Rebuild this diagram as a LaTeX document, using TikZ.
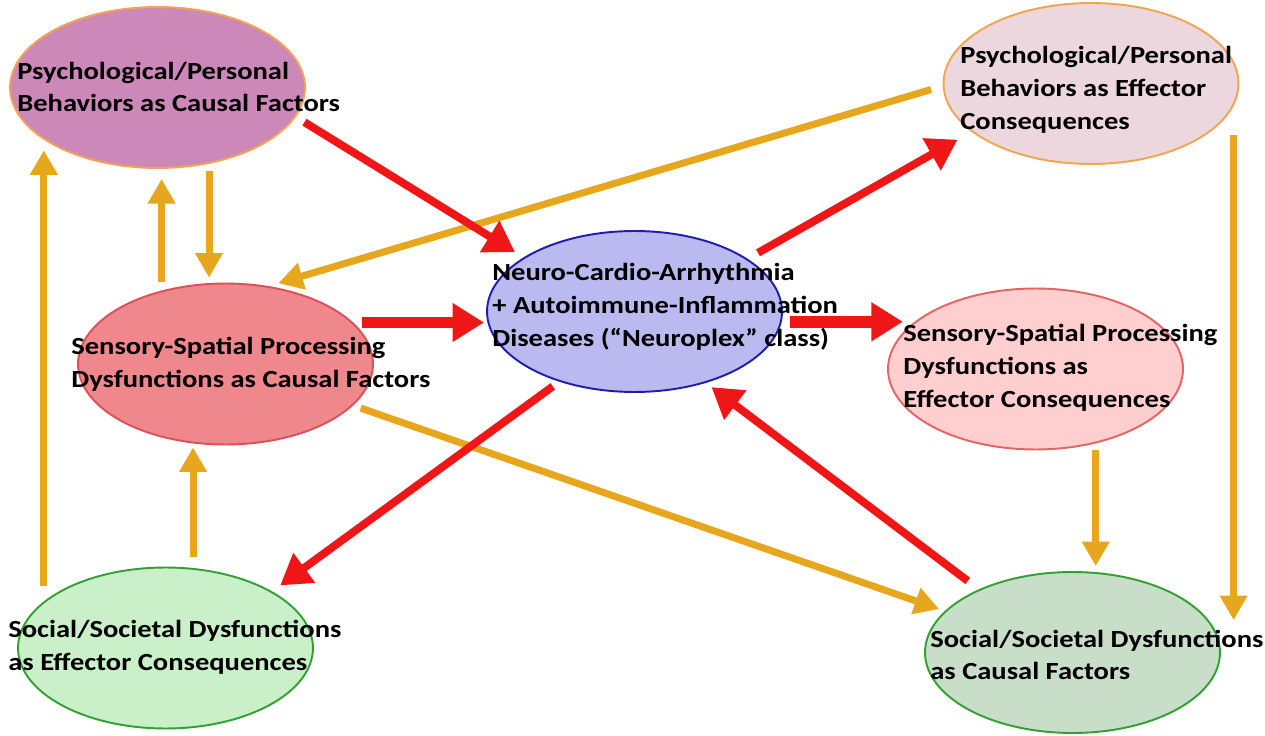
\documentclass[tikz,border=0pt]{standalone}
\usepackage{fontspec}
\newfontfamily\diagfont{Carlito}[FakeStretch=1.16]
\usetikzlibrary{arrows.meta,shapes.geometric}
\definecolor{arrRed}{RGB}{238,22,22}
\definecolor{arrOrange}{RGB}{230,166,30}
\definecolor{orangeLine}{RGB}{240,165,80}
\definecolor{psyCfill}{RGB}{205,136,186}
\definecolor{psyEfill}{RGB}{237,215,222}
\definecolor{neuroFill}{RGB}{186,186,240}
\definecolor{neuroLine}{RGB}{30,30,170}
\definecolor{sensCfill}{RGB}{238,136,140}
\definecolor{sensCline}{RGB}{222,80,88}
\definecolor{sensEfill}{RGB}{255,206,206}
\definecolor{sensEline}{RGB}{226,100,100}
\definecolor{socEfill}{RGB}{202,240,202}
\definecolor{socCfill}{RGB}{200,222,200}
\definecolor{socLine}{RGB}{50,160,50}

\begin{document}
\begin{tikzpicture}[x=0.02cm,y=-0.02cm,
  blob/.style={ellipse,line width=1.1pt,minimum width=5.9cm,minimum height=3.22cm,inner sep=0pt},
  txt/.style={anchor=west,align=left,inner sep=0pt,font=\diagfont\fontsize{14pt}{18.7pt}\selectfont\bfseries},
  redarr/.style={draw=arrRed,line width=4.5pt,-{Triangle[length=17pt,width=20pt]}},
  bigarr/.style={draw=arrRed,line width=6.8pt,-{Triangle[length=18pt,width=21pt]}},
  orarr/.style={draw=arrOrange,line width=4pt,-{Triangle[length=14pt,width=15pt]}}]
\useasboundingbox (0,0) rectangle (1265,736);

\node[blob,fill=psyCfill,draw=orangeLine] (psyCause) at (157.5,87.5) {};
\node[blob,fill=psyEfill,draw=orangeLine] (psyEffect) at (1091,83.5) {};
\node[blob,fill=neuroFill,draw=neuroLine] (neuro) at (634.5,311.5) {};
\node[blob,fill=sensCfill,draw=sensCline] (sensCause) at (225.5,364) {};
\node[blob,fill=sensEfill,draw=sensEline] (sensEffect) at (1035.5,369) {};
\node[blob,fill=socEfill,draw=socLine] (socEffect) at (165.5,648) {};
\node[blob,fill=socCfill,draw=socLine] (socCause) at (1072.5,652.5) {};

\draw[orarr,shorten <=6.8pt,shorten >=5.7pt] (psyEffect.181) -- (sensCause.61);
\draw[orarr,shorten <=5.1pt,shorten >=5.7pt] (sensCause.131) -- (sensCause.131 |- psyCause.south);
\draw[orarr,shorten <=4pt,shorten >=2.8pt] (psyCause.-56) -- (psyCause.-56 |- sensCause.north);
\draw[orarr,shorten <=8.5pt,shorten >=5.7pt] (socEffect.159) -- (socEffect.159 |- psyCause.205);
\draw[orarr,shorten <=6.2pt,shorten >=1.1pt] (socEffect.71) -- (socEffect.71 |- sensCause.south);
\draw[orarr,shorten <=4.5pt,shorten >=3.4pt] (sensCause.-18) -- (socCause.162);
\draw[orarr,shorten <=4pt,shorten >=2.8pt] (sensEffect.-51) -- (sensEffect.-51 |- socCause.north);
\draw[orarr,shorten <=16.4pt,shorten >=18.4pt] (psyEffect.-9) -- (psyEffect.-9 |- socCause.east);

\draw[redarr,shorten <=5.7pt,shorten >=5.7pt] (psyCause.-12) -- (neuro.154);
\draw[redarr,shorten <=6.8pt,shorten >=9.1pt] (neuro.25) -- (psyEffect.202);
\draw[bigarr,shorten <=5.1pt,shorten >=1.1pt] (sensCause.18) -- (sensCause.18 -| neuro.west);
\draw[bigarr,shorten <=4.5pt,shorten >=6.2pt] (neuro.-4.5) -- (neuro.-4.5 -| sensEffect.159);
\draw[redarr,shorten <=4.5pt,shorten >=5.7pt] (neuro.223) -- (socEffect.28);
\draw[redarr,shorten <=7.9pt,shorten >=4pt] (socCause.146) -- (neuro.-45);

\node[txt] (psyCauseTxt) at (17,87) {Psychological/Personal\\Behaviors as Causal Factors};
\node[txt] (psyEffectTxt) at (960,89.5) {Psychological/Personal\\Behaviors as Effector\\Consequences};
\node[txt] (neuroTxt) at (492,306.5) {Neuro-Cardio-Arrhythmia\\+ Autoimmune-Inflammation\\Diseases (“Neuroplex” class)};
\node[txt] (sensCauseTxt) at (71,364) {Sensory-Spatial Processing\\Dysfunctions as Causal Factors};
\node[txt] (sensEffectTxt) at (903,368) {Sensory-Spatial Processing\\Dysfunctions as\\Effector Consequences};
\node[txt] (socEffectTxt) at (8,647) {Social/Societal Dysfunctions\\as Effector Consequences};
\node[txt] (socCauseTxt) at (930,655) {Social/Societal Dysfunctions\\as Causal Factors};
\end{tikzpicture}
\end{document}
